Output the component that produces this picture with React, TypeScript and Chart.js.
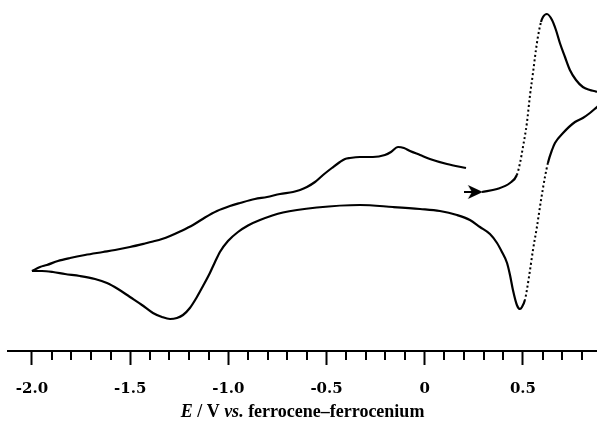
import React, { useEffect, useRef } from 'react';
import { Chart, registerables } from 'chart.js';

Chart.register(...registerables);

// Potential E (V vs. Fc/Fc+) and current I (arbitrary units) — scan segments
// 1) initial anodic sweep from the arrow up to the positive switching potential
const FORWARD_E = [0.291, 0.368, 0.434, 0.469, 0.485, 0.5, 0.52, 0.536, 0.551, 0.566, 0.576, 0.592, 0.602, 0.622, 0.648, 0.668, 0.688, 0.714, 0.739, 0.77, 0.805, 0.841, 0.877, 0.925];
const FORWARD_I = [15.9, 16.2, 16.8, 17.6, 18.8, 20.4, 22.8, 25.6, 27.8, 30.1, 31.4, 32.9, 33.4, 33.7, 33.1, 32.1, 30.8, 29.4, 28.1, 27.1, 26.4, 26.1, 25.9, 25.2];

// 2) cathodic sweep from +0.92 V down to -2.0 V
const REVERSE_E = [0.925, 0.877, 0.841, 0.805, 0.765, 0.704, 0.663, 0.648, 0.627, 0.612, 0.592, 0.571, 0.551, 0.536, 0.52, 0.51, 0.495, 0.485, 0.469, 0.449, 0.434, 0.419, 0.393, 0.368, 0.332, 0.281, 0.23, 0.164, 0.077, -0.024, -0.162, -0.33, -0.549, -0.722, -0.839, -0.9, -0.951, -1.002, -1.043, -1.068, -1.094, -1.129, -1.16, -1.196, -1.231, -1.262, -1.297, -1.338, -1.384, -1.44, -1.501, -1.562, -1.618, -1.679, -1.756, -1.832, -1.893, -1.949, -2.0];
const REVERSE_I = [25.2, 24.4, 23.8, 23.3, 22.9, 21.8, 20.8, 20.1, 18.8, 17.4, 15.1, 12.4, 10.1, 8.1, 6.1, 5.1, 4.4, 4.2, 4.6, 6.1, 7.6, 8.8, 9.9, 10.8, 11.7, 12.4, 13.1, 13.6, 14.0, 14.2, 14.4, 14.6, 14.35, 13.85, 13.1, 12.55, 11.9, 11.0, 9.9, 8.9, 7.8, 6.5, 5.4, 4.3, 3.6, 3.3, 3.2, 3.4, 3.8, 4.6, 5.4, 6.2, 6.8, 7.2, 7.5, 7.7, 7.9, 8.0, 8.0];

// 3) anodic return sweep from -2.0 V back to +0.21 V
const RETURN_E = [-2.0, -1.959, -1.924, -1.868, -1.806, -1.73, -1.638, -1.577, -1.501, -1.425, -1.384, -1.338, -1.297, -1.246, -1.18, -1.119, -1.058, -0.992, -0.941, -0.865, -0.803, -0.737, -0.671, -0.635, -0.6, -0.559, -0.518, -0.473, -0.432, -0.406, -0.381, -0.33, -0.264, -0.203, -0.172, -0.136, -0.106, -0.075, -0.024, 0.026, 0.113, 0.21];
const RETURN_I = [8.0, 8.4, 8.6, 9.0, 9.3, 9.6, 9.9, 10.1, 10.4, 10.75, 10.95, 11.2, 11.5, 11.95, 12.6, 13.35, 14.0, 14.5, 14.8, 15.2, 15.4, 15.7, 15.9, 16.1, 16.4, 16.9, 17.6, 18.3, 18.9, 19.2, 19.3, 19.4, 19.4, 19.6, 19.9, 20.4, 20.3, 20.0, 19.6, 19.2, 18.7, 18.3];

// scan-direction arrow
const ARROW_E = [0.25];
const ARROW_I = [15.9];

// potential ranges drawn as sparse dots (fast-rising parts of the wave)
const DOTTED_FORWARD = [0.469, 0.592];
const DOTTED_REVERSE = [0.51, 0.627];

const E_MIN = -2.122;
const E_MAX = 0.877;
const I_MIN = 0;
const I_MAX = 35.1;

const MAJOR_TICKS = [-2.0, -1.5, -1.0, -0.5, 0, 0.5];
const TICK_LABELS = ['-2.0', '-1.5', '-1.0', '-0.5', '0', '0.5'];
const MINOR_TICKS = [-1.9, -1.8, -1.7, -1.6, -1.4, -1.3, -1.2, -1.1, -0.9, -0.8, -0.7, -0.6, -0.4, -0.3, -0.2, -0.1, 0.1, 0.2, 0.3, 0.4, 0.6, 0.7, 0.8];

const TITLE_PARTS = [
  { text: 'E', italic: true },
  { text: ' / V ', italic: false },
  { text: 'vs.', italic: true },
  { text: ' ferrocene–ferrocenium', italic: false },
];

const toPoints = (xs: number[], ys: number[]) => xs.map((x, i) => ({ x, y: ys[i] }));

const inRange = (a: number, b: number, r: number[]) =>
  Math.min(a, b) >= r[0] - 1e-9 && Math.max(a, b) <= r[1] + 1e-9;

const DOTS = [2, 2.6];

function makeArrowGlyph() {
  const c = document.createElement('canvas');
  c.width = 20;
  c.height = 16;
  const g = c.getContext('2d')!;
  g.fillStyle = '#000';
  g.strokeStyle = '#000';
  g.lineWidth = 2;
  g.beginPath();
  g.moveTo(0, 8);
  g.lineTo(8, 8);
  g.stroke();
  g.beginPath();
  g.moveTo(19, 8);
  g.lineTo(4, 1);
  g.lineTo(8, 8);
  g.lineTo(4, 15);
  g.closePath();
  g.fill();
  return c;
}

const minorTickPlugin = {
  id: 'minorTicks',
  afterDraw(chart: any) {
    const scale = chart.scales.x;
    const ctx = chart.ctx;
    const top = chart.chartArea.bottom;
    ctx.save();
    ctx.strokeStyle = '#000';
    ctx.lineWidth = 2;
    MINOR_TICKS.forEach((v) => {
      const x = Math.round(scale.getPixelForValue(v));
      ctx.beginPath();
      ctx.moveTo(x, top);
      ctx.lineTo(x, top + 9);
      ctx.stroke();
    });
    ctx.restore();
  },
};

const titlePlugin = {
  id: 'mixedTitle',
  afterDraw(chart: any) {
    const ctx = chart.ctx;
    const fontFor = (it: boolean) => `${it ? 'italic ' : ''}bold 18px "Liberation Serif", "Times New Roman", serif`;
    ctx.save();
    let total = 0;
    const widths = TITLE_PARTS.map((p) => {
      ctx.font = fontFor(p.italic);
      const w = ctx.measureText(p.text).width;
      total += w;
      return w;
    });
    const cx = (chart.chartArea.left + chart.chartArea.right) / 2;
    let x = cx - total / 2;
    const y = chart.chartArea.bottom + 61;
    ctx.fillStyle = '#000';
    ctx.textBaseline = 'middle';
    ctx.textAlign = 'left';
    TITLE_PARTS.forEach((p, i) => {
      ctx.font = fontFor(p.italic);
      ctx.fillText(p.text, x, y);
      x += widths[i];
    });
    ctx.restore();
  },
};

export default function App() {
  const canvasRef = useRef<HTMLCanvasElement | null>(null);

  useEffect(() => {
    document.body.style.margin = '0';
    const canvas = canvasRef.current;
    if (!canvas) return;
    const lineBase = {
      showLine: true,
      borderColor: '#000',
      borderWidth: 2.2,
      pointRadius: 0,
      cubicInterpolationMode: 'monotone',
      fill: false,
    };
    const chart = new Chart(canvas, {
      type: 'scatter',
      data: {
        datasets: [
          {
            ...lineBase,
            label: 'anodic sweep',
            data: toPoints(FORWARD_E, FORWARD_I),
            segment: {
              borderDash: (c: any) => (inRange(c.p0.parsed.x, c.p1.parsed.x, DOTTED_FORWARD) ? DOTS : undefined),
              borderWidth: (c: any) => (inRange(c.p0.parsed.x, c.p1.parsed.x, DOTTED_FORWARD) ? 2 : undefined),
            },
          },
          {
            ...lineBase,
            label: 'cathodic sweep',
            data: toPoints(REVERSE_E, REVERSE_I),
            segment: {
              borderDash: (c: any) => (inRange(c.p0.parsed.x, c.p1.parsed.x, DOTTED_REVERSE) ? DOTS : undefined),
              borderWidth: (c: any) => (inRange(c.p0.parsed.x, c.p1.parsed.x, DOTTED_REVERSE) ? 2 : undefined),
            },
          },
          {
            ...lineBase,
            label: 'return sweep',
            data: toPoints(RETURN_E, RETURN_I),
          },
          {
            label: 'scan direction',
            data: toPoints(ARROW_E, ARROW_I),
            showLine: false,
            pointStyle: makeArrowGlyph(),
            pointRadius: 8,
          },
        ],
      },
      options: {
        responsive: false,
        animation: false,
        layout: { autoPadding: false, padding: { left: 8, right: 0, top: 0, bottom: 0 } },
        plugins: {
          legend: { display: false },
          tooltip: { enabled: false },
          title: { display: false },
        },
        scales: {
          x: {
            type: 'linear',
            position: 'bottom',
            min: E_MIN,
            max: E_MAX,
            afterFit: (scale: any) => {
              scale.height = 72;
              scale.paddingLeft = 0;
              scale.paddingRight = 0;
            },
            afterBuildTicks: (scale: any) => {
              scale.ticks = MAJOR_TICKS.map((value) => ({ value }));
            },
            grid: {
              display: true,
              drawOnChartArea: false,
              drawTicks: true,
              tickLength: 14,
              tickWidth: 2,
              tickColor: '#000',
            },
            border: { display: true, color: '#000', width: 2 },
            ticks: {
              autoSkip: false,
              maxRotation: 0,
              padding: 15,
              color: '#000',
              font: { family: '"DejaVu Serif", serif', size: 15, weight: 'bold' },
              callback: (value: any) => {
                const idx = MAJOR_TICKS.findIndex((t) => Math.abs(t - Number(value)) < 1e-6);
                return idx >= 0 ? TICK_LABELS[idx] : '';
              },
            },
          },
          y: {
            type: 'linear',
            display: false,
            min: I_MIN,
            max: I_MAX,
          },
        },
      },
      plugins: [minorTickPlugin, titlePlugin],
    } as any);
    return () => chart.destroy();
  }, []);

  return (
    <div style={{ width: 597, height: 423 }}>
      <canvas ref={canvasRef} width={597} height={423} style={{ display: 'block' }} />
    </div>
  );
}
